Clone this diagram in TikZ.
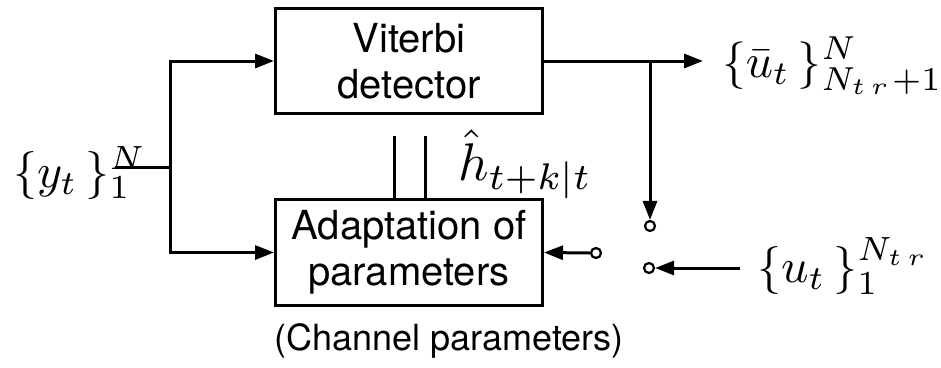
\documentclass[tikz,border=0pt]{standalone}
\usepackage[no-math]{fontspec}
\setmainfont{TeX Gyre Heros}
\usetikzlibrary{arrows.meta}
\newcommand{\bigmath}[2][4.8]{\scalebox{#1}{\fontsize{10}{12}\selectfont$#2$}}
\begin{document}
\begin{tikzpicture}[x=1pt,y=-1pt,
  blk/.style={draw, line width=3pt, align=center, inner sep=0pt,
    font=\fontsize{40}{46}\selectfont},
  conn/.style={line width=3pt},
  arr/.style={conn, -{Triangle[length=19pt,width=14pt]}},
  term/.style={circle, draw, line width=2.2pt, minimum size=10pt, inner sep=0pt, fill=white},
  mlab/.style={inner sep=0pt}]
\fill[white] (0,0) rectangle (941,367);
\useasboundingbox (0,0) rectangle (941,367);

\node[blk, minimum width=267pt, minimum height=105pt] (vit) at (409,61) {Viterbi\\detector};
\node[blk, minimum width=267pt, minimum height=106pt] (ada) at (409,252.5) {Adaptation of\\parameters};
\node[inner sep=0pt, anchor=base, font=\fontsize{36}{42}\selectfont] (cap) at (449,350) {(Channel parameters)};

\node[mlab, anchor=base west] (yl) at (13,187) {\bigmath{\{y_t\,\}^N_1}};
\node[mlab, anchor=base west] (ubar) at (722,77) {\bigmath[4.75]{\{\bar u_t\,\}^N_{N_{t\,r}\mkern1mu+1}}};
\node[mlab, anchor=base west] (ul) at (757,282) {\bigmath{\{u_t\,\}^{N_{t\,r}}_1}};
\node[mlab, anchor=base west] (hl) at (458,180) {\bigmath[5.3]{\hat h_{t+k|t}}};

\node[term] (sw1) at (650,226) {};
\node[term] (sw2) at (596,253) {};
\node[term] (sw3) at (649,268) {};

\coordinate (yin) at (115,167);
\coordinate (split) at (170,167);
\coordinate (junc) at (650,61);
\coordinate (outend) at (703,61);
\coordinate (uin) at (740,268);
\coordinate (h1) at (394,136);
\coordinate (h2) at (425,136);

\draw[conn] (yin) -- (split);
\draw[arr] (split) |- (vit.west);
\draw[arr] (split) |- (ada.west);
\draw[arr] (vit.east) -- (outend);
\draw[arr] (junc) -- (sw1.north);
\draw[arr] (sw2.west) -- (ada.east);
\draw[arr] (uin) -- (sw3.east);
\draw[conn] (h1) -- (h1 |- ada.north);
\draw[conn] (h2) -- (h2 |- ada.north);
\end{tikzpicture}
\end{document}
